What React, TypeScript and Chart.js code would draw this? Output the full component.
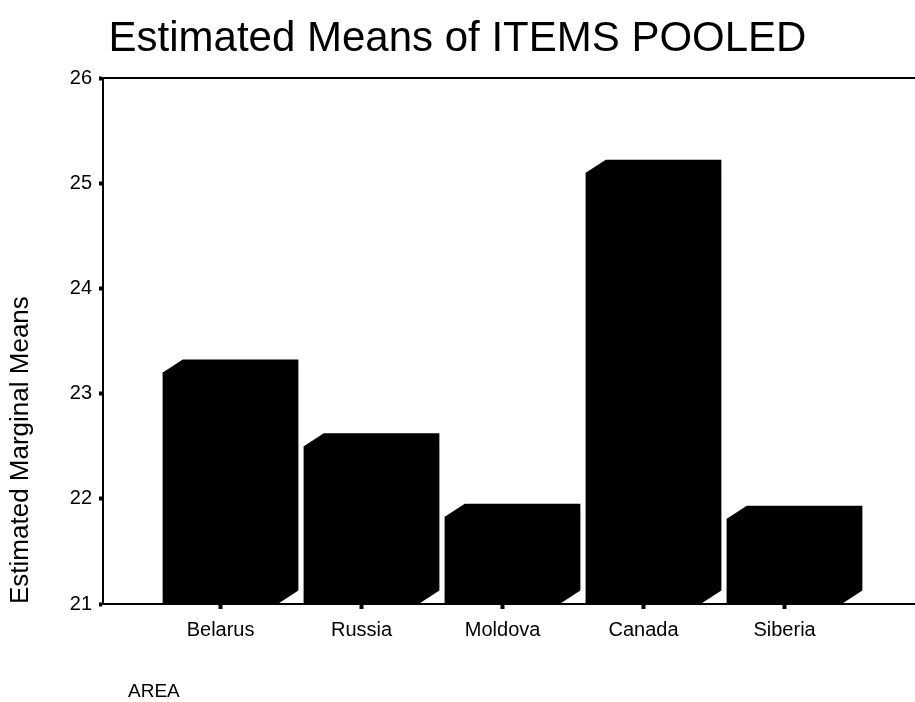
import React, { useEffect, useRef } from 'react';
import { Chart, registerables } from 'chart.js';

Chart.register(...registerables);

// Chart text
const TITLE = 'Estimated Means of ITEMS POOLED';
const Y_TITLE = 'Estimated Marginal Means';
const X_TITLE = 'AREA';

// Categories and estimated marginal means
const areas = ['Belarus', 'Russia', 'Moldova', 'Canada', 'Siberia'];
const means = [23.2, 22.5, 21.83, 25.1, 21.81];

// Value axis range
const Y_MIN = 21;
const Y_MAX = 26;
const Y_STEP = 1;

const FONT = "'Liberation Sans', Arial, Helvetica, sans-serif";
const INK = '#000';

// Depth of the extruded bar boxes (pixels)
const DEPTH_X = 20;
const DEPTH_Y = 13;

// Draws each bar as a solid box: front face plus top and side in depth
const boxBars = {
  id: 'boxBars',
  afterDatasetsDraw(chart: any) {
    const { ctx } = chart;
    const meta = chart.getDatasetMeta(0);
    ctx.save();
    ctx.fillStyle = INK;
    meta.data.forEach((bar: any) => {
      const { x, y, base, width } = bar.getProps(['x', 'y', 'base', 'width'], true);
      const l = x - width / 2;
      const r = x + width / 2;
      ctx.beginPath();
      ctx.moveTo(l, y);
      ctx.lineTo(l + DEPTH_X, y - DEPTH_Y);
      ctx.lineTo(r + DEPTH_X, y - DEPTH_Y);
      ctx.lineTo(r + DEPTH_X, base - DEPTH_Y);
      ctx.lineTo(r, base);
      ctx.lineTo(l, base);
      ctx.closePath();
      ctx.fill();
    });
    ctx.restore();
  },
};

// Top rule of the plot frame
const topRule = {
  id: 'topRule',
  beforeDatasetsDraw(chart: any) {
    const { ctx, chartArea } = chart;
    ctx.save();
    ctx.strokeStyle = INK;
    ctx.lineWidth = 2;
    ctx.beginPath();
    ctx.moveTo(chartArea.left, chartArea.top);
    ctx.lineTo(chart.width, chartArea.top);
    ctx.stroke();
    ctx.restore();
  },
};

// Category axis caption, set in below the tick labels
const axisCaption = {
  id: 'axisCaption',
  afterDraw(chart: any, _args: any, opts: any) {
    const { ctx, chartArea } = chart;
    ctx.save();
    ctx.fillStyle = INK;
    ctx.font = `${opts.size}px ${FONT}`;
    ctx.textAlign = 'left';
    ctx.textBaseline = 'alphabetic';
    ctx.fillText(opts.text, chartArea.left + opts.dx, chartArea.bottom + opts.dy);
    ctx.restore();
  },
};

export default function App() {
  const canvasRef = useRef<HTMLCanvasElement | null>(null);

  useEffect(() => {
    if (!canvasRef.current) return;
    const chart = new Chart(canvasRef.current, {
      type: 'bar',
      data: {
        datasets: [
          {
            data: means.map((v, i) => ({ x: i, y: v })),
            backgroundColor: INK,
            borderWidth: 0,
            base: Y_MIN,
            barPercentage: 0.82,
            categoryPercentage: 1,
          },
        ],
      },
      options: {
        responsive: false,
        animation: false,
        layout: { padding: 0 },
        plugins: {
          legend: { display: false },
          tooltip: { enabled: false },
          title: {
            display: true,
            text: TITLE,
            color: INK,
            font: { family: FONT, size: 42, weight: 'normal', lineHeight: 1.2 },
            padding: { top: 14, bottom: 13.6 },
          },
          axisCaption: { text: X_TITLE, size: 19, dx: 25, dy: 93 },
        } as any,
        scales: {
          x: {
            type: 'linear',
            offset: false,
            min: -0.834,
            max: 4.925,
            afterBuildTicks: (s: any) => {
              s.ticks = areas.map((_, i) => ({ value: i }));
            },
            afterFit: (s: any) => {
              s.height = 98;
            },
            ticks: {
              color: INK,
              font: { family: FONT, size: 20 },
              padding: 9,
              autoSkip: false,
              maxRotation: 0,
              callback: (v: any) => areas[v] ?? '',
            },
            grid: {
              display: true,
              offset: false,
              drawOnChartArea: false,
              drawTicks: true,
              tickLength: 5,
              tickWidth: 4,
              tickColor: INK,
            },
            border: { display: true, color: INK, width: 2 },
          },
          y: {
            min: Y_MIN,
            max: Y_MAX,
            afterFit: (s: any) => {
              s.width = 103;
            },
            ticks: {
              stepSize: Y_STEP,
              color: INK,
              font: { family: FONT, size: 20 },
              padding: 7,
            },
            grid: {
              display: true,
              drawOnChartArea: false,
              drawTicks: true,
              tickLength: 4,
              tickWidth: 4,
              tickColor: INK,
            },
            border: { display: true, color: INK, width: 2 },
            title: {
              display: true,
              text: Y_TITLE,
              align: 'start',
              color: INK,
              font: { family: FONT, size: 26, lineHeight: 1.2 },
              padding: { top: 5, bottom: 0 },
            },
          },
        },
      },
      plugins: [topRule, boxBars, axisCaption],
    } as any);
    return () => chart.destroy();
  }, []);

  return (
    <div style={{ position: 'absolute', left: 0, top: 0, width: 915, height: 702, background: '#fff' }}>
      <canvas ref={canvasRef} width={915} height={702} style={{ display: 'block' }} />
    </div>
  );
}
